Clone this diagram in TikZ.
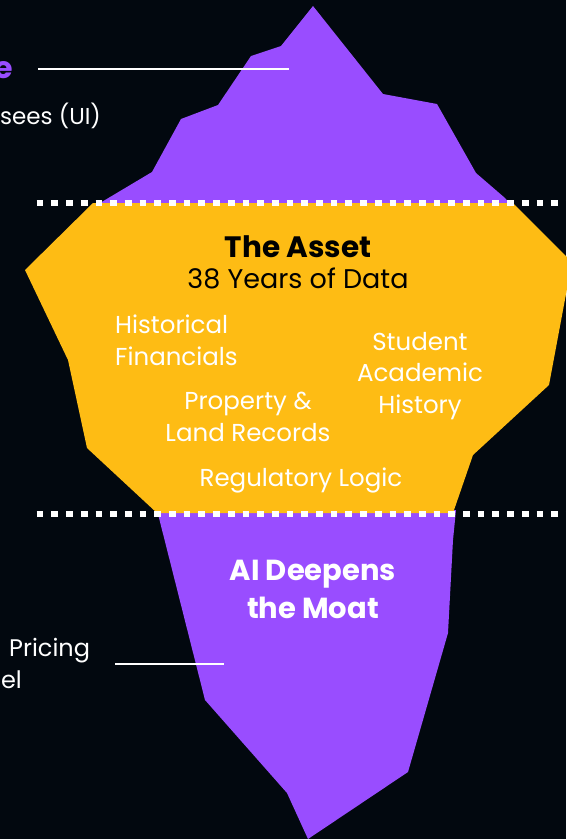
\documentclass[tikz,border=0pt]{standalone}
\usepackage{fontspec}
\setmainfont{Poppins}
\definecolor{bg}{RGB}{2,8,15}
\definecolor{berg}{RGB}{153,77,255}
\definecolor{gold}{RGB}{254,188,20}
\begin{document}
\begin{tikzpicture}[x=1pt,y=-1pt,
  lbl/.style={text=white, inner sep=0pt, font=\fontsize{24.5}{31.5}\selectfont},
  title/.style={text=black, inner sep=0pt, font=\bfseries\fontsize{29.5}{36}\selectfont},
  sub/.style={text=black, inner sep=0pt, font=\fontsize{27}{32}\selectfont},
  moat/.style={text=white, inner sep=0pt, font=\bfseries\fontsize{29}{38}\selectfont},
  dots/.style={white, line width=6.7pt, dash pattern=on 6.7pt off 8pt},
  leader/.style={white, line width=1.3pt}]
\useasboundingbox (0,0) rectangle (566,839);
\fill[bg] (0,0) rectangle (566,839);
% top of iceberg
\fill[berg] (313,6) -- (383,94) -- (437,104) -- (476,173) -- (505,198) -- (511,205)
  -- (98,205) -- (100,203) -- (152,172) -- (181,119) -- (218,105) -- (251,56) -- (281,46) -- cycle;
% bottom of iceberg
\fill[berg] (157,510) -- (456,510) -- (453,540) -- (448,633) -- (408,772) -- (308,839)
  -- (287,793) -- (205,700) -- cycle;
% the asset band
\fill[gold] (93,203) -- (513,203) -- (572,262) -- (549,385) -- (473,455) -- (453,513)
  -- (157,513) -- (87,448) -- (68,360) -- (25,270) -- cycle;
% water lines
\coordinate (d1a) at (36.7,203); \coordinate (d1b) at (566,203);
\coordinate (d2a) at (36.7,514); \coordinate (d2b) at (566,514);
\draw[dots] (d1a) -- (d1b);
\draw[dots] (d2a) -- (d2b);
% leaders
\coordinate (l1a) at (38,69); \coordinate (l1b) at (289,69);
\coordinate (l2a) at (115,664); \coordinate (l2b) at (224,664);
\draw[leader] (l1a) -- (l1b);
\draw[leader] (l2a) -- (l2b);
% texts
\node[anchor=base east, inner sep=0pt, text=berg, font=\bfseries\fontsize{30}{36}\selectfont] (tophead) at (13,78) {e};
\node[lbl, anchor=base west, font=\fontsize{23}{30}\selectfont] (topsub) at (0,124) {sees (UI)};
\node[lbl, anchor=base west, font=\fontsize{24}{30}\selectfont] (price) at (9,656) {Pricing};
\node[lbl, anchor=base east, font=\fontsize{24}{30}\selectfont] (model) at (22,688) {el};
\node[title, anchor=base] (asset) at (298,257) {The Asset};
\node[sub, anchor=base] (years) at (298,288) {38 Years of Data};
\node[lbl, anchor=base west, align=left] (hist) at (115,365) {Historical\\Financials};
\node[lbl, anchor=base, align=center] (stud) at (420,413) {Student\\Academic\\History};
\node[lbl, anchor=base, align=center] (prop) at (248,441) {Property \&\\Land Records};
\node[lbl, anchor=base] (reg) at (301,486) {Regulatory Logic};
\node[moat, anchor=base, align=center] (ai) at (313,618) {AI Deepens\\the Moat};
\end{tikzpicture}
\end{document}
